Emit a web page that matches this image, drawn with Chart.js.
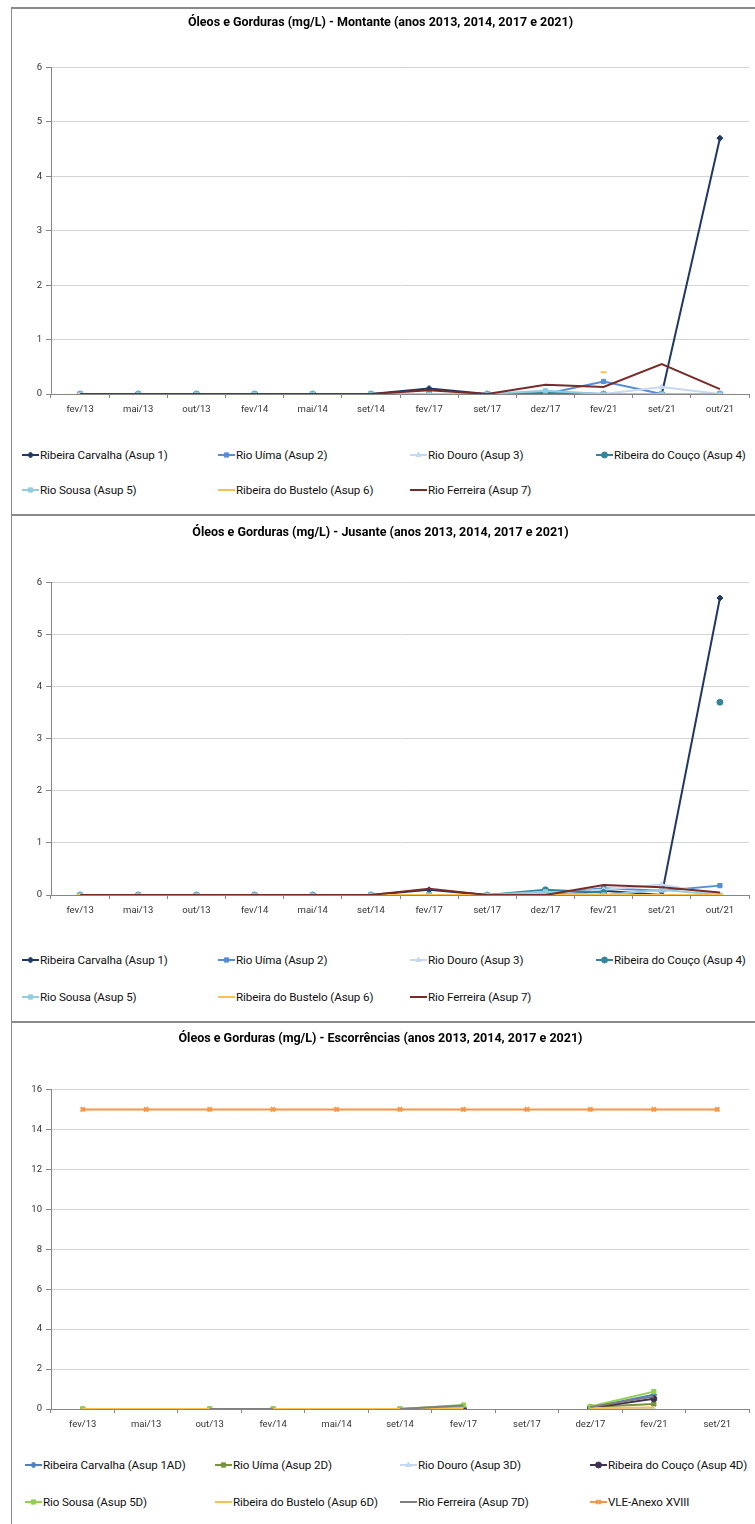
<!DOCTYPE html>
<html>
<head>
<meta charset="UTF-8">
<title>Óleos e Gorduras (mg/L)</title>
<script src="https://cdn.jsdelivr.net/npm/chart.js@4.4.4/dist/chart.umd.min.js"></script>
<style>
body{margin:0;background:#fff;width:755px;height:1524px;position:relative;overflow:hidden;
  font-family:'Liberation Sans Narrow','Arial Narrow','Roboto',sans-serif;}
.frame{position:absolute;left:11px;width:800px;border-left:1.5px solid #8a8a8a;border-top:2px solid #8a8a8a;}
canvas.chart{position:absolute;left:12px;}
.item{position:absolute;height:16px;line-height:16px;display:flex;align-items:center;font-size:11.6px;letter-spacing:-0.1px;color:#111;white-space:nowrap;}
.item canvas{margin-right:1px;}
</style>
<script>
// categorias (eixo x)
const catMontante = ['fev/13','mai/13','out/13','fev/14','mai/14','set/14','fev/17','set/17','dez/17','fev/21','set/21','out/21'];
const catJusante = ['fev/13','mai/13','out/13','fev/14','mai/14','set/14','fev/17','set/17','dez/17','fev/21','set/21','out/21'];
const catEscorrencias = ['fev/13','mai/13','out/13','fev/14','mai/14','set/14','fev/17','set/17','dez/17','fev/21','set/21'];

// Montante
const mCarvalha = [0,0,0,0,0,0,0.1,0,0,0,0,4.7];
const mUima     = [0,0,0,0,0,0,0,0,0,0.23,0,0];
const mDouro    = [0,0,0,0,0,0,0,0,0.05,0,0.13,0];
const mCouco    = [0,0,0,0,0,0,0,0,0.02,0,0,0];
const mSousa    = [0,0,0,0,0,0,0,0,0.06,0,0,0];
const mBustelo  = [0,0,0,0,0,0,0,0,null,0.4,null,0];
const mFerreira = [0,0,0,0,0,0,0.07,0,0.17,0.13,0.55,0.09];

// Jusante
const jCarvalha = [0,0,0,0,0,0,0.1,0,0,0.08,0,5.7];
const jUima     = [0,0,0,0,0,0,0,0,0.03,0.13,0.08,0.18];
const jDouro    = [0,0,0,0,0,0,0,0,0.05,0.1,0.2,0];
const jCouco    = [0,0,0,0,0,0,0,0,0.1,0.05,null,3.7];
const jSousa    = [0,0,0,0,0,0,0,0,0.06,0,0.1,0];
const jBustelo  = [0,0,0,0,0,0,0,0,0,0,0,0];
const jFerreira = [0,0,0,0,0,0,0.12,0,0,0.19,0.15,0.05];

// Escorrências
const eCarvalha = [null,null,null,null,null,null,null,null,0.08,0.71,null];
const eUima     = [0,null,0,0,null,0,0.1,null,0.1,0.25,null];
const eDouro    = [null,null,null,null,null,null,null,null,0.05,0,null];
const eCouco    = [null,null,null,null,null,null,0,null,0.05,0.51,null];
const eSousa    = [0,null,0,0,null,0,0.2,null,0.13,0.87,null];
const eBustelo  = [0,0,0,0,0,0,0.05,null,0.05,0.08,null];
const eFerreira = [null,null,0,0,null,0,0.18,null,0.1,0.62,null];
const eVle      = [15,15,15,15,15,15,15,15,15,15,15];

const nomesM = ['Ribeira Carvalha (Asup 1)','Rio Uíma (Asup 2)','Rio Douro (Asup 3)','Ribeira do Couço (Asup 4)','Rio Sousa (Asup 5)','Ribeira do Bustelo (Asup 6)','Rio Ferreira (Asup 7)'];
const nomesE = ['Ribeira Carvalha (Asup 1AD)','Rio Uíma (Asup 2D)','Rio Douro (Asup 3D)','Ribeira do Couço (Asup 4D)','Rio Sousa (Asup 5D)','Ribeira do Bustelo (Asup 6D)','Rio Ferreira (Asup 7D)','VLE-Anexo XVIII'];

const coresM = ['#1f3864','#558ed5','#c6d9f1','#31859c','#93cddd','#fac050','#772c2a'];
const coresE = ['#4f81bd','#77933c','#c6d9f1','#403152','#92d050','#fac050','#7f7f7f','#f79646'];
const pontosM = ['rectRot','rect','triangle','circle','rect','line',false];
const pontosE = ['rectRot','rect','triangle','circle','rect',false,false,'crossRot'];

const FONTE = "'Liberation Sans Narrow','Arial Narrow','Roboto',sans-serif";

function criaGrafico(id, titulo, labels, series, nomes, cores, pontos, yMax, passo, t, b, xAlt, baixo){
  const n = series.length;
  const ctx = document.getElementById(id).getContext('2d');
  return new Chart(ctx, {
    type: 'line',
    data: {
      labels: labels,
      datasets: series.map((s, i) => ({
        label: nomes[i],
        data: s,
        borderColor: cores[i],
        backgroundColor: cores[i],
        borderWidth: 2,
        pointStyle: pontos[i] || 'circle',
        pointRadius: pontos[i] ? 3 : 0,
        pointBorderWidth: pontos[i] === 'line' || pontos[i] === 'crossRot' ? 2 : 1,
        tension: 0,
        spanGaps: false,
        order: n - i
      }))
    },
    options: {
      responsive: false,
      animation: false,
      layout: { padding: { left: 0, right: 6, top: 0, bottom: baixo } },
      plugins: {
        legend: { display: false },
        tooltip: { enabled: false },
        title: {
          display: true, text: titulo, color: '#000',
          font: { family: FONTE, size: 12.5, weight: 'bold' },
          padding: { top: t, bottom: b }
        }
      },
      scales: {
        x: {
          offset: true,
          grid: { display: true, drawOnChartArea: false, offset: true, tickLength: 4, color: '#868686' },
          border: { color: '#868686' },
          ticks: { autoSkip: false, maxRotation: 0, padding: 6, color: '#333', font: { family: FONTE, size: 9.5 } },
          afterFit: sc => { sc.height = xAlt; }
        },
        y: {
          min: 0, max: yMax,
          grid: { color: '#d4d4d4', tickColor: '#868686', tickLength: 5 },
          border: { color: '#868686' },
          ticks: { stepSize: passo, padding: 4, color: '#333', font: { family: FONTE, size: 9.5 } },
          afterFit: sc => { sc.width = 39; }
        }
      }
    }
  });
}

function criaLegenda(nomes, cores, pontos, colunas, linhas){
  nomes.forEach((nome, i) => {
    const div = document.createElement('div');
    div.className = 'item';
    div.style.left = colunas[i % 4] + 'px';
    div.style.top = (linhas[Math.floor(i / 4)] - 8) + 'px';
    const c = document.createElement('canvas');
    c.width = 17; c.height = 10;
    const g = c.getContext('2d');
    g.strokeStyle = cores[i]; g.lineWidth = 2;
    g.beginPath(); g.moveTo(0, 5); g.lineTo(17, 5); g.stroke();
    if (pontos[i] && pontos[i] !== 'line') {
      g.fillStyle = cores[i]; g.lineWidth = pontos[i] === 'crossRot' ? 2 : 1;
      Chart.helpers.drawPoint(g, { pointStyle: pontos[i], radius: 3, borderWidth: 1 }, 8.5, 5);
    }
    div.appendChild(c);
    const sp = document.createElement('span');
    sp.textContent = nome;
    div.appendChild(sp);
    document.body.appendChild(div);
  });
}

window.addEventListener('load', function(){
  criaGrafico('g1', 'Óleos e Gorduras (mg/L) - Montante (anos 2013, 2014, 2017 e 2021)', catMontante,
    [mCarvalha, mUima, mDouro, mCouco, mSousa, mBustelo, mFerreira], nomesM, coresM, pontosM, 6, 1, 6, 37.4, 30, 5);
  criaGrafico('g2', 'Óleos e Gorduras (mg/L) - Jusante (anos 2013, 2014, 2017 e 2021)', catJusante,
    [jCarvalha, jUima, jDouro, jCouco, jSousa, jBustelo, jFerreira], nomesM, coresM, pontosM, 6, 1, 9.2, 42.2, 26, 5);
  criaGrafico('g3', 'Óleos e Gorduras (mg/L) - Escorrências (anos 2013, 2014, 2017 e 2021)', catEscorrencias,
    [eCarvalha, eUima, eDouro, eCouco, eSousa, eBustelo, eFerreira, eVle], nomesE, coresE, pontosE, 16, 2, 8.2, 43.2, 29, 5);

  criaLegenda(nomesM, coresM, pontosM, [22, 218, 410, 596], [455, 490]);
  criaLegenda(nomesM, coresM, pontosM, [22, 218, 410, 596], [960, 997]);
  criaLegenda(nomesE, coresE, pontosE, [25, 215, 400, 590], [1465, 1502]);
});
</script>
</head>
<body>
  <div class="frame" style="top:7px;height:508px;"></div>
  <div class="frame" style="top:514px;height:508px;"></div>
  <div class="frame" style="top:1021px;height:510px;"></div>
  <canvas class="chart" id="g1" width="743" height="420" style="top:9px;"></canvas>
  <canvas class="chart" id="g2" width="743" height="410" style="top:516px;"></canvas>
  <canvas class="chart" id="g3" width="743" height="420" style="top:1023px;"></canvas>
</body>
</html>
